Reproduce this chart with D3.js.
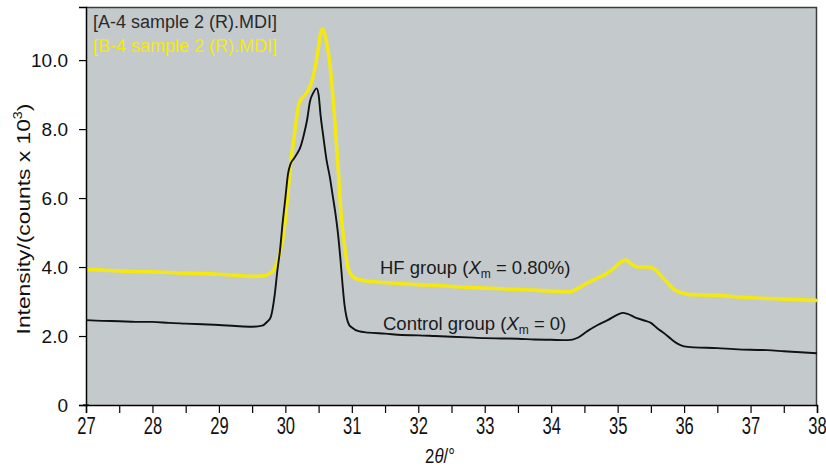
<!DOCTYPE html>
<html>
<head>
<meta charset="utf-8">
<script src="https://cdn.jsdelivr.net/npm/d3@7"></script>
<style>
  html, body { margin: 0; padding: 0; background: #ffffff; }
  svg { display: block; }
  text { font-family: "Liberation Sans", Arial, Helvetica, sans-serif; }
</style>
</head>
<body>
<svg id="chart" width="826" height="467"></svg>
<script>
// ---- Data ----
const controlTheta = [27.0,27.25,27.5,27.75,28.0,28.25,28.5,28.75,29.0,29.25,29.5,29.65,29.72,29.78,29.84,29.88,29.92,29.96,30.0,30.04,30.08,30.13,30.18,30.23,30.28,30.33,30.37,30.42,30.47,30.5,30.53,30.57,30.62,30.67,30.71,30.75,30.79,30.83,30.86,30.89,30.92,30.96,31.0,31.1,31.25,31.5,31.75,32.0,32.25,32.5,32.75,33.0,33.25,33.5,33.75,34.0,34.25,34.4,34.55,34.7,34.85,35.0,35.08,35.15,35.25,35.4,35.5,35.6,35.7,35.8,35.9,36.0,36.15,36.5,36.75,37.0,37.25,37.5,37.75,38.0];
const controlIntensity = [2.46,2.44,2.43,2.41,2.41,2.38,2.36,2.34,2.32,2.29,2.27,2.30,2.40,2.55,3.2,3.9,4.5,5.3,6.0,6.7,7.0,7.15,7.3,7.5,7.85,8.3,8.8,9.05,9.18,9.0,8.4,7.8,7.1,6.6,6.1,5.6,5.0,4.2,3.5,2.9,2.55,2.32,2.25,2.14,2.1,2.07,2.03,2.02,2.0,1.98,1.96,1.94,1.93,1.92,1.9,1.89,1.88,1.95,2.15,2.32,2.46,2.62,2.67,2.64,2.55,2.45,2.38,2.22,2.08,1.92,1.78,1.7,1.67,1.65,1.62,1.6,1.59,1.56,1.53,1.5];

const hfTheta = [27.0,27.25,27.5,27.75,28.0,28.25,28.5,28.75,29.0,29.25,29.5,29.65,29.75,29.82,29.88,29.92,29.96,30.0,30.04,30.08,30.12,30.16,30.2,30.25,30.3,30.35,30.4,30.45,30.5,30.54,30.56,30.58,30.61,30.64,30.67,30.7,30.73,30.76,30.8,30.84,30.87,30.91,30.94,31.0,31.05,31.2,31.5,31.75,32.0,32.25,32.5,32.75,33.0,33.25,33.5,33.75,34.0,34.28,34.4,34.55,34.7,34.85,34.95,35.05,35.12,35.2,35.3,35.45,35.55,35.65,35.75,35.85,35.95,36.1,36.5,36.75,37.0,37.25,37.5,37.75,38.0];
const hfIntensity = [3.93,3.91,3.89,3.87,3.86,3.84,3.82,3.81,3.79,3.76,3.73,3.74,3.8,3.9,4.15,4.45,4.8,5.4,6.2,7.0,7.6,8.2,8.7,8.9,9.0,9.15,9.4,9.8,10.4,10.85,10.9,10.85,10.6,10.3,9.9,9.3,8.6,7.8,6.7,5.5,4.95,4.35,4.0,3.75,3.68,3.6,3.55,3.52,3.49,3.47,3.44,3.41,3.39,3.37,3.35,3.33,3.3,3.28,3.38,3.55,3.68,3.83,3.98,4.15,4.2,4.1,4.0,4.0,3.95,3.75,3.55,3.35,3.26,3.2,3.18,3.14,3.11,3.09,3.07,3.05,3.03];

const xTicksMajor = [27,28,29,30,31,32,33,34,35,36,37,38];
const xTicksMinor = [27.5,28.5,29.5,30.5,31.5,32.5,33.5,34.5,35.5,36.5,37.5];
const yTicks = [0,2,4,6,8,10];
const yTickLabels = ["0","2.0","4.0","6.0","8.0","10.0"];
const legendLabels = ["[A-4 sample 2 (R).MDI]", "[B-4 sample 2 (R).MDI]"];

// ---- Layout ----
const svg = d3.select("#chart");
const W = 826, H = 467;
const m = {left: 86, top: 7, right: 9, bottom: 62};
const pw = W - m.left - m.right, ph = H - m.top - m.bottom;

const x = d3.scaleLinear().domain([27, 38]).range([m.left, m.left + pw]);
const y = d3.scaleLinear().domain([0, 11.54]).range([m.top + ph, m.top]);

const BLACK = "#111111", YELLOW = "#f3e812", BG = "#c4cacc";

// plot background
svg.append("rect").attr("x", m.left).attr("y", m.top).attr("width", pw).attr("height", ph).attr("fill", BG);

// top & right frame
svg.append("line").attr("x1", m.left).attr("x2", m.left + pw).attr("y1", m.top + 0.5).attr("y2", m.top + 0.5)
  .attr("stroke", "#3a3d3f").attr("stroke-width", 1.5);
svg.append("line").attr("x1", m.left + pw - 0.5).attr("x2", m.left + pw - 0.5).attr("y1", m.top).attr("y2", m.top + ph)
  .attr("stroke", "#3a3d3f").attr("stroke-width", 1.5);

// lines
const line = d3.line().x(d => x(d[0])).y(d => y(d[1])).curve(d3.curveMonotoneX);
const hfData = hfTheta.map((t, i) => [t, hfIntensity[i]]);
const ctlData = controlTheta.map((t, i) => [t, controlIntensity[i]]);

svg.append("path").datum(hfData).attr("d", line).attr("fill", "none")
  .attr("stroke", YELLOW).attr("stroke-width", 3.6).attr("stroke-linejoin", "round");
svg.append("path").datum(ctlData).attr("d", line).attr("fill", "none")
  .attr("stroke", BLACK).attr("stroke-width", 1.9).attr("stroke-linejoin", "round");

// x axis
const xAxis = d3.axisBottom(x).tickValues(xTicksMajor).tickSize(8).tickPadding(5).tickFormat(d3.format("d"));
const gx = svg.append("g").attr("transform", `translate(0,${m.top + ph})`).call(xAxis);
gx.select(".domain").attr("stroke", "#000").attr("stroke-width", 1.5);
gx.selectAll(".tick line").attr("stroke", "#000").attr("stroke-width", 1.2);
gx.selectAll(".tick text").attr("font-size", 23).attr("fill", "#111")
  .attr("transform", "scale(0.72,1)");
const xMinor = d3.axisBottom(x).tickValues(xTicksMinor).tickSize(8).tickFormat("");
const gxm = svg.append("g").attr("transform", `translate(0,${m.top + ph})`).call(xMinor);
gxm.select(".domain").remove();
gxm.selectAll(".tick line").attr("stroke", "#000").attr("stroke-width", 1.2);

// y axis
const yAxis = d3.axisLeft(y).tickValues(yTicks).tickSize(7).tickPadding(11)
  .tickFormat((d, i) => yTickLabels[i]);
const gy = svg.append("g").attr("transform", `translate(${m.left},0)`).call(yAxis);
gy.select(".domain").attr("stroke", "#000").attr("stroke-width", 1.5);
gy.selectAll(".tick line").attr("stroke", "#000").attr("stroke-width", 1.2);
gy.selectAll(".tick text").attr("font-size", 19).attr("fill", "#111");
// cross mark at origin
svg.append("line").attr("x1", m.left - 3).attr("x2", m.left + 3).attr("y1", y(0)).attr("y2", y(0)).attr("stroke", "#000").attr("stroke-width", 1.2);

// axis titles
const xt = svg.append("text").attr("transform", `translate(440,463) scale(0.8,1)`).attr("text-anchor", "middle")
  .attr("font-size", 21).attr("fill", "#111");
xt.append("tspan").text("2");
xt.append("tspan").attr("font-style", "italic").text("θ");
xt.append("tspan").text("/°");

const yt = svg.append("text").attr("transform", `translate(30,219) rotate(-90) scale(1.2,1)`)
  .attr("text-anchor", "middle").attr("font-size", 19).attr("fill", "#111");
yt.append("tspan").text("Intensity/(counts x 10");
yt.append("tspan").attr("font-size", 12).attr("dy", -8).text("3");
yt.append("tspan").attr("dy", 8).text(")");

// legend
svg.append("text").attr("x", 93).attr("y", 28).attr("font-size", 18).attr("fill", "#2a2a2a").text(legendLabels[0]);
svg.append("text").attr("x", 93).attr("y", 52).attr("font-size", 18).attr("fill", YELLOW).text(legendLabels[1]);

// annotations
function annot(xpos, ypos, pre, post) {
  const t = svg.append("text").attr("x", xpos).attr("y", ypos).attr("font-size", 18.5).attr("fill", "#1a1a1a");
  t.append("tspan").text(pre);
  t.append("tspan").attr("font-style", "italic").text("X");
  t.append("tspan").attr("font-size", 12).attr("dy", 4).text("m");
  t.append("tspan").attr("dy", -4).text(post);
}
annot(380, 274, "HF group (", " = 0.80%)");
annot(383, 330, "Control group (", " = 0)");
</script>
</body>
</html>
